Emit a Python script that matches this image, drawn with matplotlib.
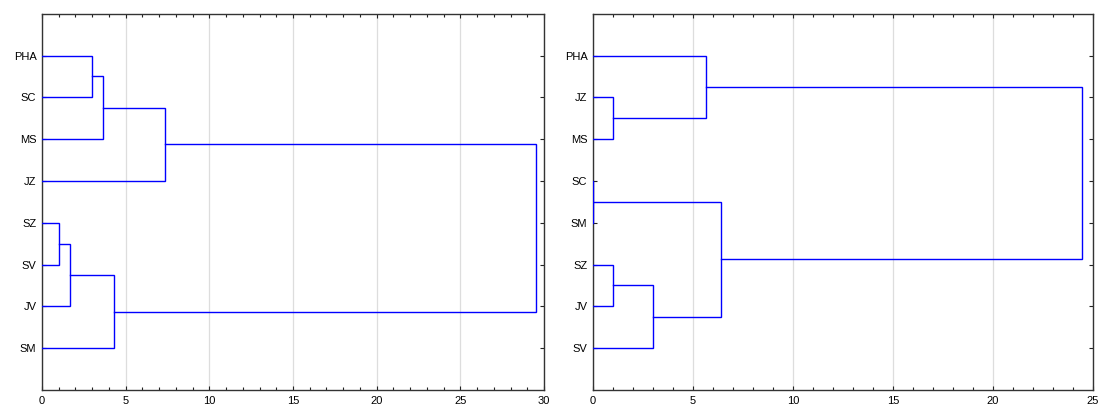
import matplotlib
matplotlib.use('Agg')
import matplotlib.pyplot as plt
from matplotlib.ticker import MultipleLocator

plt.rcParams['font.family'] = ['Liberation Sans', 'DejaVu Sans']

# left tree: leaf order (top to bottom) and merges (child a, child b, linkage distance)
left_leaves = ['PHA', 'SC', 'MS', 'JZ', 'SZ', 'SV', 'JV', 'SM']
left_merges = [(0, 1, 3.0), (8, 2, 3.66), (9, 3, 7.33),
               (4, 5, 0.99), (11, 6, 1.68), (12, 7, 4.33),
               (10, 13, 29.5)]

# right tree
right_leaves = ['PHA', 'JZ', 'MS', 'SC', 'SM', 'SZ', 'JV', 'SV']
right_merges = [(1, 2, 1.0), (0, 8, 5.66), (3, 4, 0.0),
                (5, 6, 1.0), (11, 7, 2.98), (10, 12, 6.4),
                (9, 13, 24.45)]


def draw_tree(ax, leaves, merges, xmax):
    # node -> (height, y position)
    nodes = [(0.0, i + 1) for i in range(len(leaves))]
    for a, b, h in merges:
        ha, ya = nodes[a]
        hb, yb = nodes[b]
        ax.plot([ha, h, h, hb], [ya, ya, yb, yb], color='#0000ff', lw=1.0,
                solid_joinstyle='miter', zorder=3)
        nodes.append((h, (ya + yb) / 2))

    ax.set_xlim(0, xmax)
    ax.set_ylim(len(leaves) + 1, 0)
    ax.set_yticks(range(1, len(leaves) + 1))
    ax.set_yticklabels(leaves)
    ax.xaxis.set_major_locator(MultipleLocator(5))
    ax.xaxis.set_minor_locator(MultipleLocator(1))
    ax.tick_params(which='both', direction='in', top=True, right=True,
                   labelsize=8, pad=4, width=0.8, color='#222222')
    ax.tick_params(which='major', length=3)
    ax.tick_params(which='minor', length=2)
    ax.grid(axis='x', which='major', color='#dddddd', lw=0.9, zorder=0)
    for sp in ax.spines.values():
        sp.set_linewidth(1.0)
        sp.set_color('#333333')


fig = plt.figure(figsize=(10.99, 4.09), dpi=100)
ax1 = fig.add_axes([0.0382, 0.0465, 0.4568, 0.920])
ax2 = fig.add_axes([0.5396, 0.0465, 0.4550, 0.920])

draw_tree(ax1, left_leaves, left_merges, 30)
draw_tree(ax2, right_leaves, right_merges, 25)

fig.savefig('out.png', dpi=100)
